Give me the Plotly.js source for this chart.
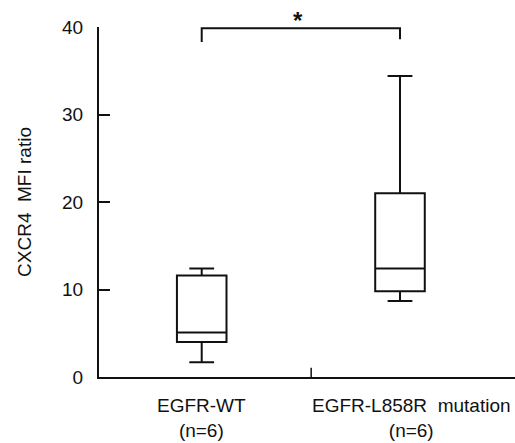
<!DOCTYPE html>
<html><head><meta charset="utf-8">
<script src="https://cdn.plot.ly/plotly-3.0.1.min.js"></script>
<style>html,body{margin:0;padding:0;background:#fff;}#chart{width:515px;height:443px;}</style>
</head><body><div id="chart"></div>
<script>
const groups = ["EGFR-WT", "EGFR-L858R\u00a0 mutation"];
const groupN = ["(n=6)", "(n=6)"];
const groupX = [0, 1];
const lowerWhisker = [1.7, 8.7];
const q1Values = [4.0, 9.8];
const medians = [5.1, 12.4];
const q3Values = [11.6, 21.0];
const upperWhisker = [12.4, 34.4];
const yTicks = [0, 10, 20, 30, 40];
const sigLabel = "*";

const font = {family: "Liberation Sans, Arial, sans-serif", size: 19, color: "#111"};

const traces = groupX.map((x, i) => ({
  type: "box",
  x: [x],
  q1: [q1Values[i]],
  median: [medians[i]],
  q3: [q3Values[i]],
  lowerfence: [lowerWhisker[i]],
  upperfence: [upperWhisker[i]],
  width: 0.25,
  whiskerwidth: 0.5,
  fillcolor: "rgba(255,255,255,0)",
  line: {color: "#111", width: 2},
  hoverinfo: "skip",
  showlegend: false
}));

const annotations = [];
groupX.forEach((x, i) => {
  annotations.push({
    x: x + (i === 1 ? 0.06 : 0), y: 0, xref: "x", yref: "y",
    text: groups[i] + "<br>" + groupN[i], showarrow: false,
    yanchor: "top", yshift: -16, font: font, align: "center"
  });
});
annotations.push({
  x: (groupX[0] + groupX[1]) / 2 - 0.015, y: 39.9, xref: "x", yref: "y",
  text: "<b>" + sigLabel + "</b>", showarrow: false, yanchor: "bottom", yshift: -8,
  font: {family: font.family, size: 24, color: "#111"}
});

const shapes = [
  {type: "path", xref: "x", yref: "y",
   path: `M ${groupX[0]},38.3 L ${groupX[0]},39.85 L ${groupX[1]},39.85 L ${groupX[1]},38.6`,
   line: {color: "#111", width: 2}},
  {type: "line", xref: "x", yref: "y", x0: 0.552, x1: 0.552, y0: 0, y1: 1.05,
   line: {color: "#111", width: 1.5}}
];

const layout = {
  width: 515, height: 443,
  margin: {l: 99, r: 0, t: 27, b: 66},
  paper_bgcolor: "#fff", plot_bgcolor: "#fff",
  font: font,
  showlegend: false,
  xaxis: {
    range: [-0.518, 1.58], showgrid: false, zeroline: false,
    showline: true, linecolor: "#111", linewidth: 2,
    showticklabels: false, ticks: ""
  },
  yaxis: {
    range: [0, 40], tickvals: yTicks, showgrid: false, zeroline: false,
    showline: true, linecolor: "#111", linewidth: 2,
    ticks: "inside", ticklen: 11, tickwidth: 2, tickcolor: "#111",
    ticklabelstandoff: 10,
    tickfont: font,
    title: {text: "CXCR4\u00a0 MFI ratio", font: font, standoff: 25}
  },
  shapes: shapes,
  annotations: annotations
};

Plotly.newPlot("chart", traces, layout, {staticPlot: true, displayModeBar: false});
</script>
</body></html>
